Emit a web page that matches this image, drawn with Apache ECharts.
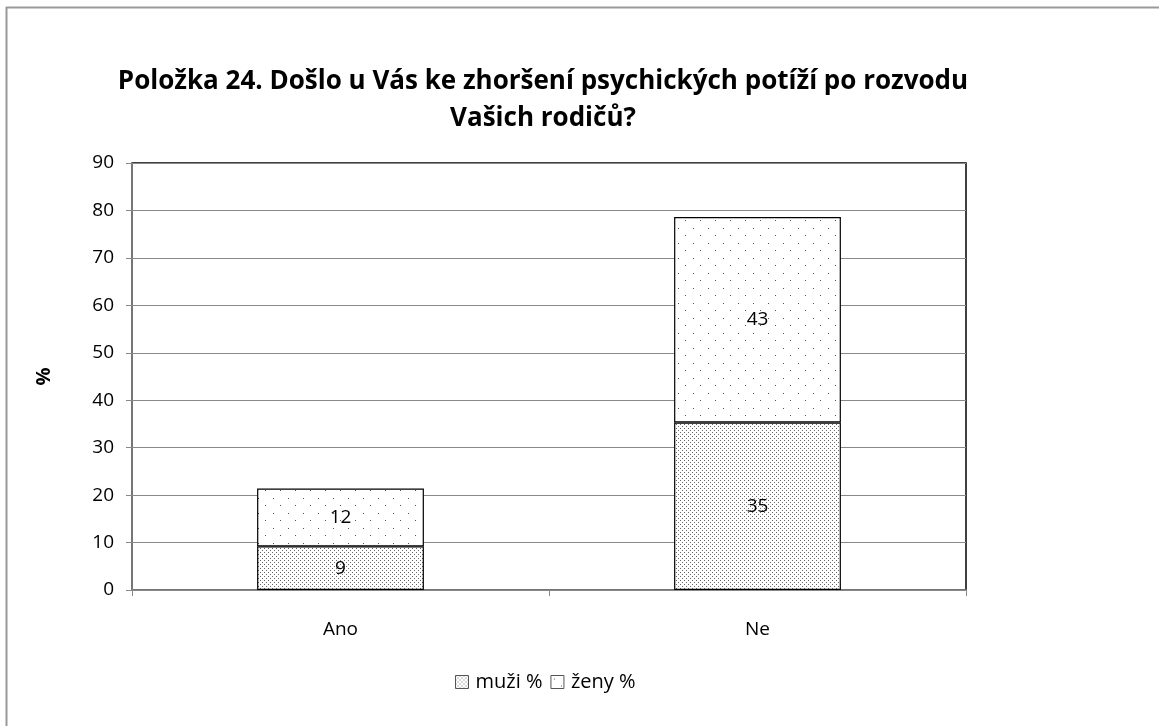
<!DOCTYPE html>
<html><head><meta charset="utf-8">
<script src="https://cdn.jsdelivr.net/npm/echarts@6/dist/echarts.min.js"></script>
<style>html,body{margin:0;padding:0;background:#fff}#c{width:1159px;height:726px}</style>
</head><body><div id="c"></div>
<script>
const categories = ['Ano', 'Ne'];
const muzi = [9.2, 35.3];
const zeny = [12.2, 43.3];
const seriesNames = ['muži %', 'ženy %'];
const titleText = 'Položka 24. Došlo u Vás ke zhoršení psychických potíží po rozvodu\nVašich rodičů?';

function densePattern() {
  const c = document.createElement('canvas'); c.width = 4; c.height = 4;
  const g = c.getContext('2d'); g.fillStyle = '#fff'; g.fillRect(0,0,4,4);
  g.fillStyle = '#666'; g.fillRect(0,0,1,1); g.fillRect(2,2,1,1);
  return c;
}
function sparsePattern() {
  const c = document.createElement('canvas'); c.width = 15; c.height = 15;
  const g = c.getContext('2d'); g.fillStyle = '#fff'; g.fillRect(0,0,15,15);
  g.fillStyle = '#555'; g.fillRect(3,3,1,1); g.fillRect(10,10,1,1);
  return c;
}
const font = 'Open Sans, Liberation Sans, sans-serif';
const chart = echarts.init(document.getElementById('c'));
chart.setOption({
  animation: false,
  title: {
    text: titleText, left: 538, top: 58, textAlign: 'center',
    textStyle: { fontFamily: font, fontSize: 26, fontWeight: 'bold', color: '#000', lineHeight: 37 }
  },
  graphic: [
    { type: 'line', shape: { x1: 6, y1: 7.5, x2: 1159, y2: 7.5 }, style: { stroke: '#999', lineWidth: 2 } },
    { type: 'line', shape: { x1: 6.5, y1: 7, x2: 6.5, y2: 726 }, style: { stroke: '#999', lineWidth: 2 } }
  ],
  grid: { left: 132, right: 193, top: 163, bottom: 136, show: true, borderColor: '#000', borderWidth: 1.5 },
  legend: {
    bottom: 29, left: 450, itemWidth: 13, itemHeight: 13, itemGap: 8,
    textStyle: { fontFamily: font, fontSize: 20, color: '#000', padding: [0, 0, 0, 2] },
    data: seriesNames.map(n => ({ name: n, icon: 'rect', itemStyle: { borderColor: '#555', borderWidth: 1 } }))
  },
  xAxis: {
    type: 'category', data: categories,
    axisLine: { lineStyle: { color: '#888', width: 1.5 } },
    axisTick: { show: true, length: 6, lineStyle: { color: '#888' } },
    axisLabel: { fontFamily: font, fontSize: 19, color: '#000', margin: 30 }
  },
  yAxis: {
    type: 'value', min: 0, max: 90, interval: 10, name: '%', nameLocation: 'middle', nameGap: 78,
    nameTextStyle: { fontFamily: font, fontSize: 20, fontWeight: 'bold', color: '#000' },
    axisLine: { show: true, lineStyle: { color: '#888', width: 1.5 } },
    axisTick: { show: true, length: 6, lineStyle: { color: '#888' } },
    axisLabel: { fontFamily: font, fontSize: 19, color: '#000', margin: 18 },
    splitLine: { lineStyle: { color: '#888', width: 1 } }
  },
  series: [
    { name: seriesNames[0], type: 'bar', stack: 's', data: muzi, barWidth: '40%',
      itemStyle: { color: { image: densePattern(), repeat: 'repeat' }, borderColor: '#000', borderWidth: 1.2 },
      label: { show: true, position: 'inside', formatter: p => Math.round(p.value), fontFamily: font, fontSize: 19, color: '#000' } },
    { name: seriesNames[1], type: 'bar', stack: 's', data: zeny, barWidth: '40%',
      itemStyle: { color: { image: sparsePattern(), repeat: 'repeat' }, borderColor: '#000', borderWidth: 1.2 },
      label: { show: true, position: 'inside', formatter: p => Math.round(p.value), fontFamily: font, fontSize: 19, color: '#000' } }
  ]
});
</script></body></html>
